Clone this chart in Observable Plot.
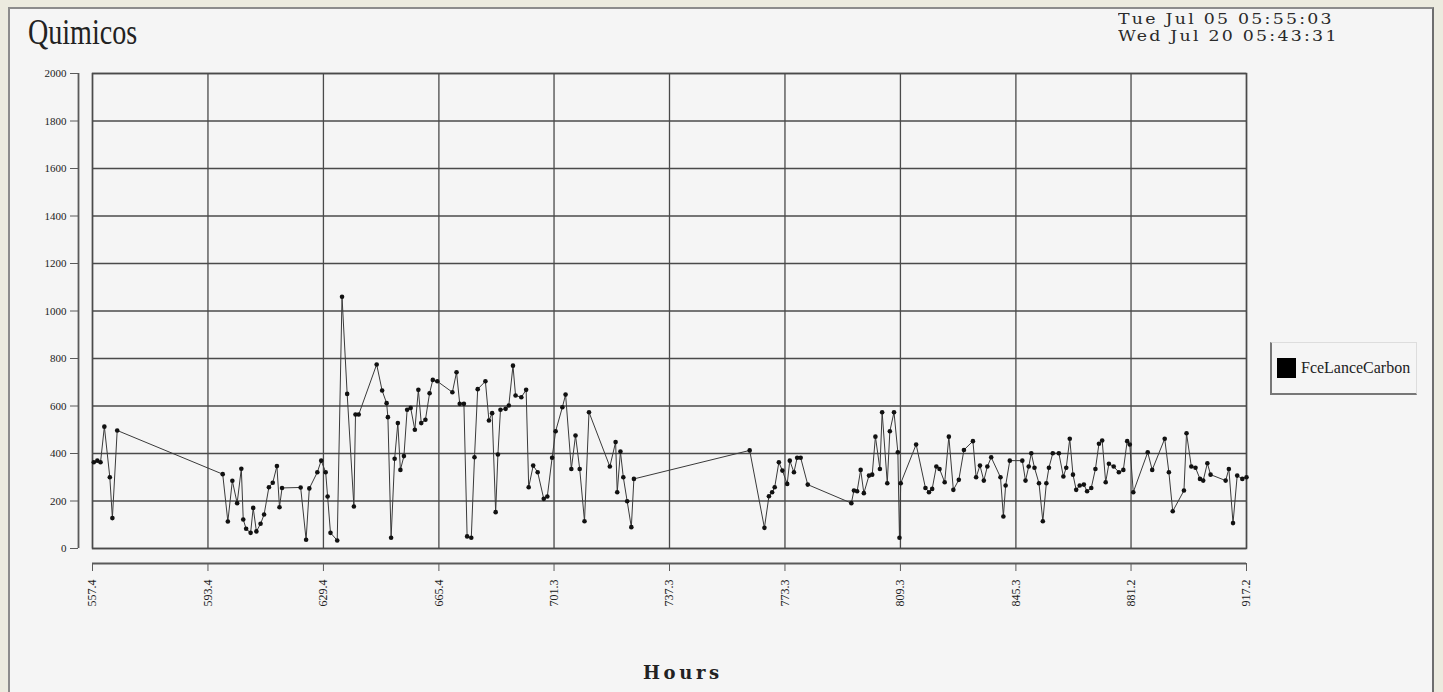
<!DOCTYPE html>
<html>
<head>
<meta charset="utf-8">
<script src="https://cdn.jsdelivr.net/npm/d3@7"></script>
<script src="https://cdn.jsdelivr.net/npm/@observablehq/plot@0.6"></script>
<style>
  html, body { margin: 0; padding: 0; }
  body { width: 1443px; height: 692px; background: #ecebdf; position: relative; overflow: hidden; font-family: "Liberation Serif", serif; }
  #panel { position: absolute; left: 8px; top: 7px; width: 1426px; height: 690px; background: #f5f5f5;
           border-top: 2px solid #8c8c8c; border-left: 2px solid #8c8c8c; border-right: 2px solid #6e6e6e; box-sizing: border-box; }
  #title { position: absolute; left: 28px; top: 12px; font-size: 36px; line-height: 40px; color: #222; transform: scaleX(0.78); transform-origin: left top; }
  .date { position: absolute; left: 1118px; font-family: "DejaVu Serif", serif; font-size: 15.5px; line-height: 16px; height: 16px; color: #2a2a2a; letter-spacing: 2px; white-space: nowrap; transform: scaleX(1.12); transform-origin: left top; }
  #d1 { top: 11px; }
  #d2 { top: 28px; }
  #chart { position: absolute; left: 0; top: 60px; }
  #legend { position: absolute; left: 1270px; top: 342px; width: 147px; height: 53px; box-sizing: border-box;
            border-left: 2px solid #777; border-bottom: 2px solid #777; border-top: 1px solid #ddd; border-right: 1px solid #ddd; }
  #legend .sw { position: absolute; left: 5px; top: 15px; width: 19px; height: 20px; background: #000; }
  #legend .lb { position: absolute; left: 29px; top: 15px; font-size: 17px; line-height: 20px; color: #222; transform: scaleX(0.94); transform-origin: left top; white-space: nowrap; }
  #xlabel { position: absolute; left: 643px; top: 662px; font-family: "DejaVu Serif", serif; font-weight: bold; font-size: 18px; letter-spacing: 3.6px; color: #222; }
</style>
</head>
<body>
<div id="panel"></div>
<div id="title">Quimicos</div>
<div class="date" id="d1">Tue Jul 05 05:55:03</div>
<div class="date" id="d2">Wed Jul 20 05:43:31</div>
<div id="chart"></div>
<div id="legend"><div class="sw"></div><div class="lb">FceLanceCarbon</div></div>
<div id="xlabel">Hours</div>
<script>
// Tick labels
const xTickLabels = ["557.4","593.4","629.4","665.4","701.3","737.3","773.3","809.3","845.3","881.2","917.2"];
const yTickValues = [0,200,400,600,800,1000,1200,1400,1600,1800,2000];
const seriesName = "FceLanceCarbon";

// Series: hours and FceLanceCarbon values
const hours = [557.8,558.9,559.9,561.1,562.8,563.6,565.1,598.0,599.6,601.0,
  602.5,603.8,604.4,605.3,606.7,607.5,608.5,609.8,610.9,612.4,
  613.6,614.9,615.7,616.5,622.3,624.0,625.0,627.5,628.7,630.1,
  630.7,631.6,633.7,635.2,636.8,638.9,639.4,640.4,646.0,647.7,
  649.1,649.5,650.5,651.6,652.6,653.4,654.5,655.5,656.6,657.9,
  659.0,659.9,661.2,662.5,663.5,664.9,669.6,670.9,671.9,673.2,
  674.2,675.5,676.5,677.5,679.9,681.0,682.0,683.1,683.8,684.6,
  686.2,687.2,688.5,689.3,691.1,692.6,693.4,694.8,696.2,698.1,
  699.2,700.7,701.8,703.9,704.9,706.7,708.0,709.3,710.8,712.2,
  718.7,720.5,721.0,722.0,722.9,724.1,725.4,726.2,762.3,766.9,
  768.3,769.3,770.1,771.4,772.5,774.0,774.8,776.1,777.1,778.2,
  780.4,794.0,794.8,795.8,796.9,797.9,799.5,800.5,801.5,802.9,
  803.6,805.2,806.0,807.3,808.5,809.0,809.4,814.2,817.1,818.2,
  819.2,820.5,821.5,823.1,824.4,825.8,827.5,829.1,831.9,832.9,
  834.1,835.3,836.4,837.6,840.5,841.4,842.1,843.4,847.3,848.3,
  849.3,850.1,851.1,852.5,853.7,854.8,855.6,856.8,858.7,860.1,
  861.0,862.1,863.1,864.1,865.2,866.5,867.5,868.8,870.1,871.2,
  872.2,873.3,874.3,875.8,877.4,878.8,880.0,880.8,881.9,886.4,
  887.8,891.7,893.0,894.2,897.7,898.5,900.0,901.3,902.7,903.7,
  905.0,906.0,910.7,911.7,913.0,914.3,915.9,917.2];
const values = [363,370,363,513,300,128,497,313,114,285,
  191,336,122,83,66,171,72,104,143,258,
  277,347,174,255,257,37,253,321,370,321,
  219,66,34,1060,651,177,564,564,775,665,
  612,553,45,378,528,331,389,584,592,500,
  668,528,542,654,710,704,658,742,609,609,
  51,45,384,671,704,539,570,153,396,584,
  588,602,770,644,637,668,258,349,321,209,
  219,382,494,595,648,335,476,335,115,574,
  345,448,237,408,300,199,90,293,413,87,
  220,237,258,363,328,272,370,321,382,382,
  269,191,244,241,331,233,307,311,471,335,
  574,275,494,574,405,45,275,438,255,237,
  251,345,335,279,471,247,289,415,452,300,
  349,286,345,384,300,135,265,370,370,286,
  345,401,340,275,115,275,340,401,401,303,
  340,462,311,247,265,269,241,255,335,441,
  455,279,357,345,321,331,452,438,237,405,
  331,462,321,157,244,485,345,340,293,286,
  359,311,286,335,107,307,293,300];

const data = hours.map((h, i) => ({h, v: values[i], s: seriesName}));
const xTicks = xTickLabels.map(Number);
const xDomain = [xTicks[0], xTicks[xTicks.length - 1]];
const yDomain = [yTickValues[0], yTickValues[yTickValues.length - 1]];

const gridStyle = {stroke: "#4a4a4a", strokeOpacity: 1, strokeWidth: 1.3};
const axisStroke = "#5a5a5a";

const chart = Plot.plot({
  width: 1443,
  height: 632,
  marginLeft: 92,
  marginRight: 197,
  marginTop: 13,
  marginBottom: 144,
  style: {background: "transparent", fontFamily: "Liberation Serif, serif", fontSize: "11px", color: "#222"},
  x: {domain: xDomain},
  y: {domain: yDomain},
  marks: [
    Plot.gridX(xTicks, gridStyle),
    Plot.gridY(yTickValues, gridStyle),
    Plot.frame({stroke: "#4a4a4a", strokeWidth: 1.5}),
    Plot.ruleX([{x: xDomain[0], y1: yDomain[0], y2: yDomain[1]}], {x: "x", y1: "y1", y2: "y2", dx: -14, stroke: axisStroke, strokeWidth: 1.8}),
    Plot.axisY(yTickValues, {dx: -14, tickSize: 8, tickPadding: 4, label: null, fontSize: 11, stroke: axisStroke, tickFormat: d => String(d)}),
    Plot.ruleY([{y: yDomain[0], x1: xDomain[0], x2: xDomain[1]}], {y: "y", x1: "x1", x2: "x2", dy: 15, stroke: axisStroke, strokeWidth: 1.8}),
    Plot.axisX(xTicks, {dy: 15, tickSize: 8, tickPadding: 8, tickRotate: -90, label: null, fontSize: 12, stroke: axisStroke, tickFormat: d => d.toFixed(1)}),
    Plot.line(data, {x: "h", y: "v", stroke: "#3a3a3a", strokeWidth: 1}),
    Plot.dot(data, {x: "h", y: "v", r: 2.3, fill: "#111", stroke: "none"})
  ]
});
document.getElementById("chart").appendChild(chart);
</script>
</body>
</html>
